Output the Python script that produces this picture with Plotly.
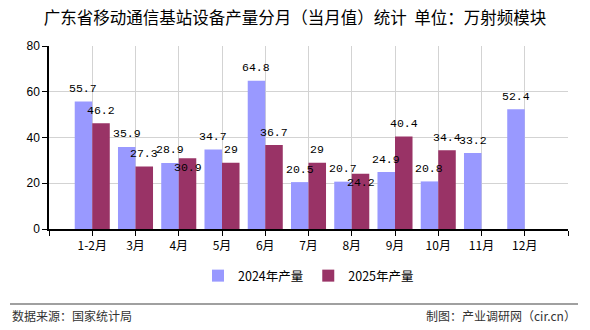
import plotly.graph_objects as go

categories = ["1-2月", "3月", "4月", "5月", "6月", "7月", "8月", "9月", "10月", "11月", "12月"]
values_2024 = [55.7, 35.9, 28.9, 34.7, 64.8, 20.5, 20.7, 24.9, 20.8, 33.2, 52.4]
values_2025 = [46.2, 27.3, 30.9, 29, 36.7, 29, 24.2, 40.4, 34.4, None, None]
series_names = ["2024年产量", "2025年产量"]
series_colors = ["#9999FF", "#993366"]
y_ticks = [0, 20, 40, 60, 80]
# labels drawn just under the bar top in the reference (series index, category)
labels_below = {(1, "4月"), (1, "8月")}

positions = list(range(1, len(categories) + 1))
bargap = 0.19
bar_w = (1 - bargap) / 2

def fmt(v):
    return "%g" % v

fig = go.Figure()
for s, (name, vals, col) in enumerate(zip(series_names, [values_2024, values_2025], series_colors)):
    fig.add_trace(go.Bar(
        x=positions, y=vals, name=name,
        marker_color=col, marker_line_width=0,
        cliponaxis=False,
    ))
    off = (-0.5 + s) * bar_w
    for p, c, v in zip(positions, categories, vals):
        if v is None:
            continue
        below = (s, c) in labels_below
        fig.add_annotation(
            x=p + off, y=v, xref="x", yref="y", text=fmt(v), showarrow=False,
            xanchor="center", yanchor="middle", yshift=-9 if below else 13,
            font=dict(family="Liberation Mono", size=11.5, color="#000000"),
        )

fig.update_layout(
    width=590, height=330,
    margin=dict(l=49, r=22, t=46, b=101),
    paper_bgcolor="white", plot_bgcolor="white",
    barmode="group", bargap=bargap, bargroupgap=0,
    title=dict(text="广东省移动通信基站设备产量分月（当月值）统计  单位：万射频模块",
               x=0.5, xanchor="center", y=0.945, yanchor="middle",
               font=dict(family="Noto Sans CJK SC", size=16.5, color="#000000")),
    font=dict(family="Noto Sans CJK SC", size=12, color="#000000"),
    legend=dict(orientation="h", x=0.5, xanchor="center", y=-(276 - 229) / 183, yanchor="middle",
                font=dict(family="Noto Sans CJK SC", size=12.5, color="#000000"),
                itemwidth=30, traceorder="normal"),
    showlegend=True,
)

fig.update_xaxes(
    range=[0, len(categories) + 1],
    tickvals=[0] + positions + [len(categories) + 1],
    ticktext=[""] + categories + [""],
    showgrid=True, gridcolor="#d3d3d3", gridwidth=1,
    showline=True, linecolor="#000000", linewidth=1.5,
    ticks="outside", ticklen=5, tickcolor="#000000",
    tickfont=dict(family="Noto Sans CJK SC", size=12, color="#000000"),
    zeroline=False, fixedrange=True,
)
fig.update_yaxes(
    range=[0, 80], tickvals=y_ticks,
    showgrid=True, gridcolor="#d3d3d3", gridwidth=1,
    showline=True, linecolor="#000000", linewidth=1.5,
    ticks="outside", ticklen=5, tickcolor="#000000",
    tickfont=dict(family="Liberation Sans", size=12, color="#000000"),
    zeroline=False, fixedrange=True,
)

fig.add_shape(type="line", xref="paper", yref="paper",
              x0=-39/519, x1=(578-49)/519, y0=-(304-229)/183, y1=-(304-229)/183,
              line=dict(color="#808080", width=1.5))
fig.add_annotation(text="数据来源：国家统计局", xref="paper", yref="paper",
                   x=-39/519, y=-(315-229)/183, xanchor="left", yanchor="middle",
                   showarrow=False, font=dict(family="Noto Sans CJK SC", size=12, color="#333333"))
fig.add_annotation(text="制图：产业调研网（cir.cn）", xref="paper", yref="paper",
                   x=(578-49)/519, y=-(315-229)/183, xanchor="right", yanchor="middle",
                   showarrow=False, font=dict(family="Noto Sans CJK SC", size=12, color="#333333"))

fig.write_html("out.html")
